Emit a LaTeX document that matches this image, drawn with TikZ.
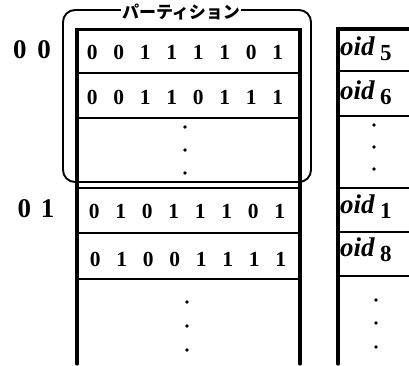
\documentclass[tikz,border=0pt]{standalone}
\usepackage{fontspec}
\setmainfont{Liberation Serif}
\newfontfamily\jpfont{Noto Sans CJK JP}
\newcommand\bitcell[1]{\makebox[26.5pt]{#1}}
\newcommand\oidtext[1]{\textit{oid}\hspace{5pt}\raisebox{-5pt}{\fontsize{23}{23}\selectfont #1}}
\begin{document}
\begin{tikzpicture}[x=1pt,y=-1pt,
  thickline/.style={line width=3.2pt, line cap=round},
  rowline/.style={line width=2.2pt},
  bits/.style={font=\fontsize{21.5}{21.5}\selectfont\bfseries, inner sep=0pt},
  keylab/.style={font=\fontsize{27}{27}\selectfont\bfseries, inner sep=0pt},
  oidlab/.style={font=\fontsize{27}{27}\selectfont\bfseries, inner sep=0pt, anchor=base west},
  dotmark/.style={circle, fill=black, inner sep=0pt, minimum size=3.8pt}]
\useasboundingbox (0,0) rectangle (409,366);
% main table
\draw[thickline] (77,364) -- (77,29.5) -- (300,29.5) -- (300,364);
\foreach \y in {73,118,233,279} \draw[rowline] (77,\y) -- (300,\y);
\draw[line width=2.8pt] (77,188) -- (300,188);
% right table
\draw[thickline] (338,364) -- (338,29) -- (412,29);
\foreach \y in {71,116,232,276} \draw[rowline] (338,\y) -- (412,\y);
\draw[line width=2.8pt] (338,188) -- (412,188);
% partition box
\draw[line width=1.9pt, rounded corners=12pt] (63,10) rectangle (311,182);
\node[fill=white, inner sep=1.5pt, font=\jpfont\bfseries\fontsize{17}{17}\selectfont] (plabel) at (181,12) {パーティション};
% key labels
\node[keylab] (k00) at (32,50) {0\hspace{11pt}0};
\node[keylab] (k01) at (36,209) {0\hspace{10pt}1};
% bit rows
\node[bits] (r1) at (185,52) {\bitcell0\bitcell0\bitcell1\bitcell1\bitcell1\bitcell1\bitcell0\bitcell1};
\node[bits] (r2) at (185,97) {\bitcell0\bitcell0\bitcell1\bitcell1\bitcell0\bitcell1\bitcell1\bitcell1};
\node[bits] (r4) at (187,211) {\bitcell0\bitcell1\bitcell0\bitcell1\bitcell1\bitcell1\bitcell0\bitcell1};
\node[bits] (r5) at (188,259) {\bitcell0\bitcell1\bitcell0\bitcell0\bitcell1\bitcell1\bitcell1\bitcell1};
% dots main
\node[dotmark] (d1) at (185,127) {};
\node[dotmark] (d2) at (185,150) {};
\node[dotmark] (d3) at (185,173) {};
\node[dotmark] (d4) at (187,302) {};
\node[dotmark] (d5) at (187,326) {};
\node[dotmark] (d6) at (187,350) {};
% oid labels
\node[oidlab] (o5) at (340,56) {\oidtext{5}};
\node[oidlab] (o6) at (340,100) {\oidtext{6}};
\node[oidlab] (o1) at (340,213) {\oidtext{1}};
\node[oidlab] (o8) at (340,256) {\oidtext{8}};
% dots right
\node[dotmark] (e1) at (374,125) {};
\node[dotmark] (e2) at (374,147) {};
\node[dotmark] (e3) at (374,169) {};
\node[dotmark] (e4) at (376,300) {};
\node[dotmark] (e5) at (376,323) {};
\node[dotmark] (e6) at (376,347) {};
\end{tikzpicture}
\end{document}
